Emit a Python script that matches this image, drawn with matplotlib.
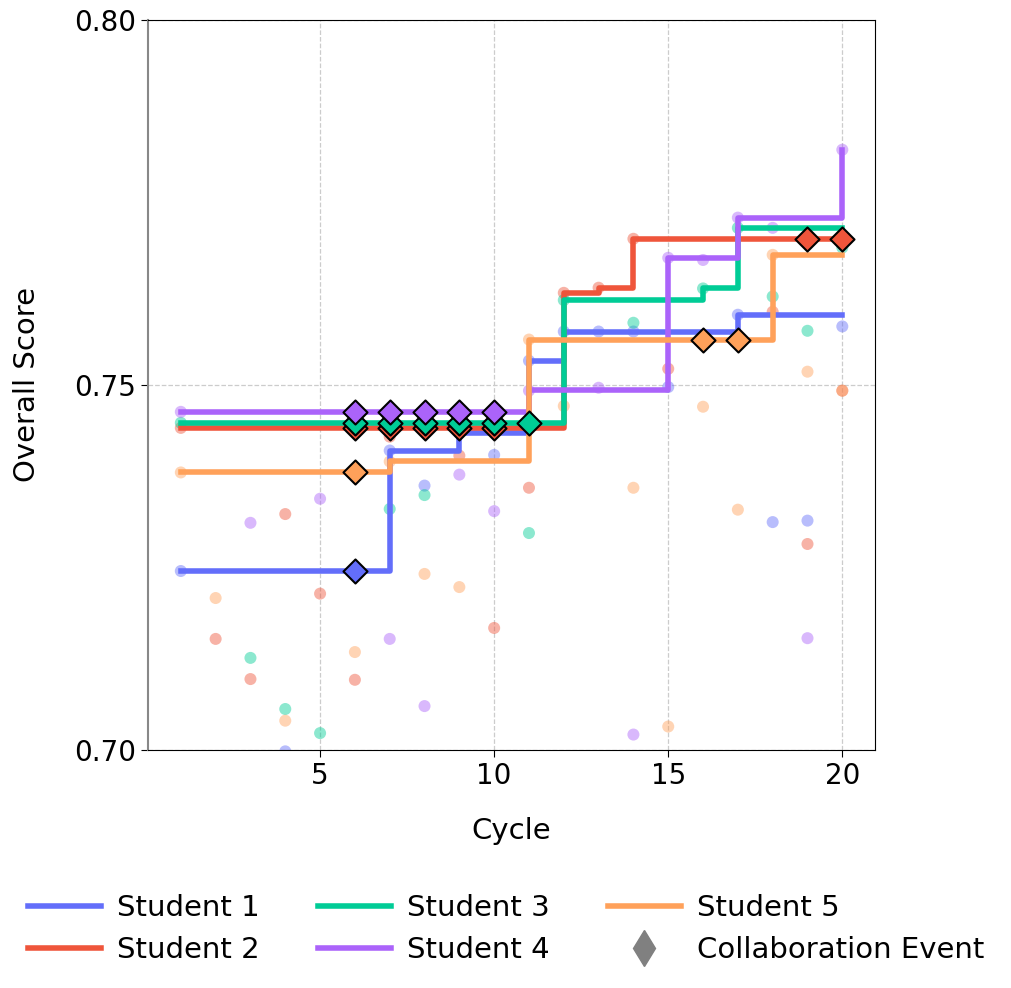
#Student score progression with collaboration events
import numpy as np
import matplotlib.pyplot as plt
from matplotlib.lines import Line2D

nan = np.nan

#Cycles and students
cycles = np.arange(1, 21)
names = ['Student 1', 'Student 2', 'Student 3', 'Student 4', 'Student 5']
colors = ['#636EFA', '#EF553B', '#00CC96', '#AB63FA', '#FFA15A']

#Raw score of each cycle (nan = not visible in the chart)
s1_raw = [0.7245, nan, nan, 0.6998, nan, nan, 0.7410, 0.7362, 0.7434, 0.7404,
          0.7533, 0.7573, 0.7573, 0.7573, 0.7497, nan, 0.7596, 0.7312, 0.7314, 0.7580]
s2_raw = [0.7441, 0.7152, 0.7097, 0.7323, 0.7214, 0.7096, 0.7429, nan, 0.7403, 0.7167,
          0.7359, 0.7626, 0.7633, 0.7700, 0.7522, nan, nan, 0.7600, 0.7282, 0.7492]
s3_raw = [0.7448, nan, 0.7126, 0.7056, 0.7023, nan, 0.7330, 0.7349, nan, nan,
          0.7297, 0.7616, nan, 0.7585, nan, 0.7632, 0.7715, 0.7621, 0.7574, 0.7688]
s4_raw = [0.7463, nan, 0.7311, nan, 0.7344, nan, 0.7152, 0.7060, 0.7377, 0.7327,
          0.7492, nan, 0.7496, 0.7021, 0.7674, 0.7671, 0.7729, 0.7715, 0.7153, 0.7822]
s5_raw = [0.7380, 0.7208, nan, 0.7040, nan, 0.7134, 0.7395, 0.7241, 0.7223, nan,
          0.7562, 0.7471, nan, 0.7359, 0.7032, 0.7470, 0.7329, 0.7678, 0.7518, 0.7492]

#Best score so far
s1_best = [0.7245, 0.7245, 0.7245, 0.7245, 0.7245, 0.7245, 0.7410, 0.7410, 0.7434, 0.7434,
           0.7533, 0.7573, 0.7573, 0.7573, 0.7573, 0.7573, 0.7596, 0.7596, 0.7596, 0.7596]
s2_best = [0.7441, 0.7441, 0.7441, 0.7441, 0.7441, 0.7441, 0.7441, 0.7441, 0.7441, 0.7441,
           0.7441, 0.7626, 0.7632, 0.7700, 0.7700, 0.7700, 0.7700, 0.7700, 0.7700, 0.7700]
s3_best = [0.7448, 0.7448, 0.7448, 0.7448, 0.7448, 0.7448, 0.7448, 0.7448, 0.7448, 0.7448,
           0.7448, 0.7616, 0.7616, 0.7616, 0.7616, 0.7632, 0.7715, 0.7715, 0.7715, 0.7715]
s4_best = [0.7463, 0.7463, 0.7463, 0.7463, 0.7463, 0.7463, 0.7463, 0.7463, 0.7463, 0.7463,
           0.7493, 0.7493, 0.7493, 0.7493, 0.7674, 0.7674, 0.7729, 0.7729, 0.7729, 0.7822]
s5_best = [0.7380, 0.7380, 0.7380, 0.7380, 0.7380, 0.7380, 0.7395, 0.7395, 0.7395, 0.7395,
           0.7562, 0.7562, 0.7562, 0.7562, 0.7562, 0.7562, 0.7562, 0.7678, 0.7678, 0.7678]

#Cycles with a collaboration event
s1_collab = [6]
s2_collab = [6, 7, 8, 9, 10, 19, 20]
s3_collab = [6, 7, 8, 9, 10, 11]
s4_collab = [6, 7, 8, 9, 10]
s5_collab = [6, 16, 17]

raws = [s1_raw, s2_raw, s3_raw, s4_raw, s5_raw]
bests = [s1_best, s2_best, s3_best, s4_best, s5_best]
collabs = [s1_collab, s2_collab, s3_collab, s4_collab, s5_collab]

fig = plt.figure(figsize=(10.12, 9.88), dpi=100)
ax = fig.add_axes([0.146, 0.241, 0.719, 0.739])

#Raw scores as faint dots
for raw, c in zip(raws, colors):
    ax.scatter(cycles, raw, s=75, color=c, alpha=0.45, edgecolors='none', zorder=2)

#Best-so-far step lines
for best, c, n in zip(bests, colors, names):
    ax.step(cycles, best, where='post', color=c, lw=4, label=n, zorder=3)

#Collaboration markers
for best, col, c in zip(bests, collabs, colors):
    best = np.array(best)
    idx = np.array(col) - 1
    ax.scatter(cycles[idx], best[idx], marker='D', s=150, color=c,
               edgecolors='black', linewidths=1.5, zorder=4)

ax.set_xlim(0.05, 20.95)
ax.set_ylim(0.70, 0.80)
ax.set_xticks([5, 10, 15, 20])
ax.set_yticks([0.70, 0.75, 0.80])
ax.set_yticklabels(['0.70', '0.75', '0.80'])
ax.tick_params(labelsize=20, length=5)
ax.set_xlabel('Cycle', fontsize=21, labelpad=20)
ax.set_ylabel('Overall Score', fontsize=21, labelpad=24)
ax.grid(True, linestyle='--', color='#cccccc', lw=0.9)
ax.spines['left'].set_color('#888888')
ax.spines['left'].set_linewidth(1.5)

handles = [Line2D([0], [0], color=c, lw=4) for c in colors]
handles.append(Line2D([0], [0], marker='d', color='gray', lw=0, markersize=18))
labels = names + ['Collaboration Event']
fig.legend(handles, labels, loc='upper center', bbox_to_anchor=(0.5, 0.122),
           ncol=3, frameon=False, fontsize=21, handlelength=2.5,
           columnspacing=2.0, handletextpad=0.55, labelspacing=0.5)

fig.savefig('out.png', dpi=100)
